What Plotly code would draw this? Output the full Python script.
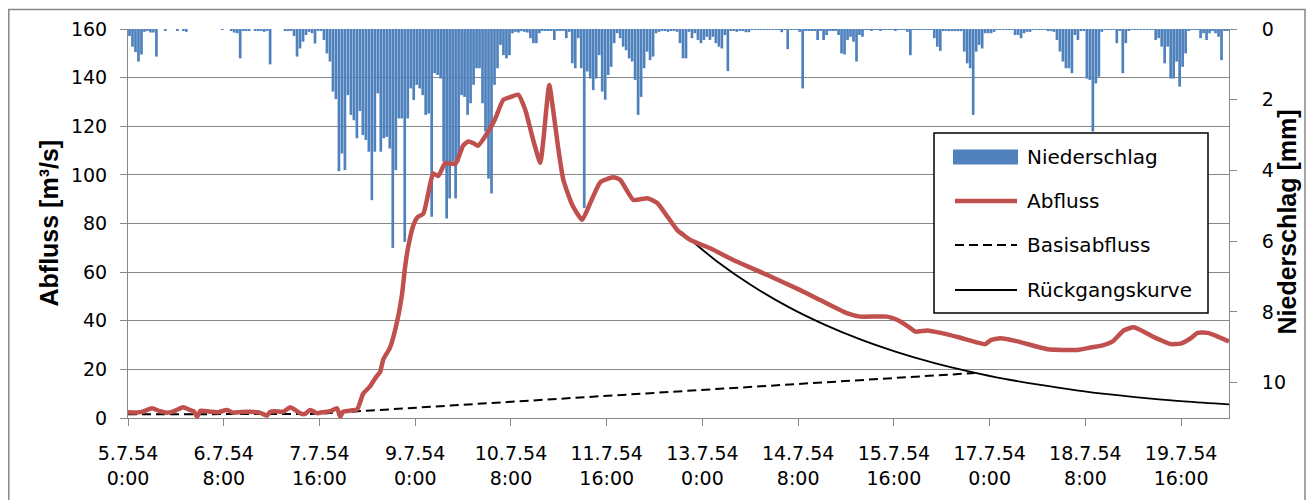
import plotly.graph_objects as go

# ---------------- data ----------------
# hourly precipitation [mm], starting 5.7.54 0:00
precip = [
    0.2, 0.5, 0.65, 0.92, 0.72, 0.08, 0.03, 0.1, 0.1, 0.78,
    0, 0, 0.03, 0, 0, 0, 0.03, 0, 0.03, 0.08,
    0, 0, 0, 0, 0, 0, 0, 0, 0, 0,
    0, 0.02, 0, 0, 0.05, 0.1, 0.12, 0.83, 0.05, 0.05,
    0.03, 0, 0.05, 0.05, 0.03, 0.08, 0.03, 1.0, 0, 0,
    0, 0, 0.03, 0.05, 0.05, 0.2, 0.78, 0.55, 0.36, 0.17,
    0.08, 0.12, 0.41, 0.03, 0.03, 0.31, 0.69, 0.92, 1.77, 1.98,
    4.02, 3.52, 3.99, 1.87, 2.43, 2.58, 3.09, 2.32, 3.0, 3.14,
    3.47, 4.84, 3.47, 1.82, 3.47, 3.09, 3.05, 3.38, 6.19, 3.99,
    2.53, 2.53, 6.02, 2.53, 1.68, 2.01, 1.58, 1.68, 1.87, 2.43,
    2.39, 5.31, 1.25, 1.3, 1.4, 3.75, 5.36, 4.79, 3.75, 4.79,
    3.75, 1.87, 1.92, 2.43, 2.1, 1.58, 1.11, 1.11, 2.1, 2.9,
    4.23, 4.65, 1.58, 1.11, 0.45, 0.74, 0.83, 0.74, 0.12, 0.08,
    0.1, 0.06, 0.08, 0.1, 0.26, 0.4, 0.4, 0.12, 0.05, 0.05,
    0.05, 0.05, 0.31, 0.03, 0.03, 0.03, 0.26, 0.08, 0.97, 1.11,
    0.26, 1.11, 5.06, 1.2, 1.4, 1.73, 1.4, 0.74, 1.77, 2.0,
    1.3, 1.07, 0.4, 0.12, 0.26, 0.5, 0.6, 0.83, 0.92, 1.44,
    2.43, 1.92, 1.11, 0.64, 0.88, 0.78, 0.12, 0.08, 0.05, 0.05,
    0.08, 0.05, 0.05, 0.08, 0.4, 0.83, 0.83, 0.08, 0.26, 0.12,
    0.31, 0.4, 0.31, 0.22, 0.31, 0.22, 0.4, 0.5, 0.55, 0.17,
    1.19, 0.03, 0.03, 0.08, 0.03, 0.03, 0.09, 0.09, 0.02, 0.02,
    0.02, 0.02, 0.02, 0.02, 0.02, 0.02, 0.02, 0.02, 0.09, 0.02,
    0.57, 0.02, 0.02, 0.02, 0.08, 1.68, 0.03, 0.03, 0.03, 0.03,
    0.31, 0.03, 0.31, 0.17, 0.03, 0.03, 0.03, 0.17, 0.69, 0.72,
    0.31, 0.22, 0.36, 0.92, 0.17, 0.22, 0.02, 0.02, 0.03, 0.02,
    0.02, 0.03, 0.02, 0.02, 0.02, 0.02, 0.03, 0.02, 0.02, 0.02,
    0.08, 0.74, 0.02, 0.02, 0.02, 0.02, 0.02, 0.02, 0.02, 0.26,
    0.5, 0.62, 0.03, 0.03, 0.06, 0.06, 0.06, 0.06, 0.06, 0.64,
    0.97, 1.11, 2.43, 0.64, 0.45, 0.55, 0.12, 0.12, 0.12, 0.08,
    0.02, 0.02, 0.02, 0.02, 0.02, 0.02, 0.17, 0.17, 0.26, 0.12,
    0.08, 0.08, 0.02, 0.02, 0.02, 0.02, 0.02, 0.06, 0.06, 0.08,
    0.31, 0.64, 0.92, 1.11, 1.11, 1.25, 0.17, 0.31, 0.03, 0.03,
    1.4, 1.44, 2.9, 1.54, 1.35, 0.08, 0.02, 0.02, 0.02, 0.02,
    0.4, 0.03, 1.25, 0.4, 0.03, 0.02, 0.02, 0.02, 0.02, 0.02,
    0.02, 0.02, 0.02, 0.31, 0.26, 0.5, 0.97, 0.5, 1.4, 1.4,
    0.92, 1.63, 1.07, 0.69, 0.03, 0.02, 0.02, 0.02, 0.26, 0.12,
    0.31, 0.12, 0.03, 0.12, 0.22, 0.88, 0.03, 0.03,
]
precip_hours = [i + 0.5 for i in range(len(precip))]

# discharge [m3/s] (hours since 5.7.54 0:00)
q_hours = [0, 3, 5, 8, 10.7, 13, 15, 18.4, 20.7, 22, 23.1, 24.2, 27.4, 30, 33.1, 35.1,
           38, 40.8, 44, 46.5, 47.5, 49.2, 52, 54.2, 56, 57.5, 59, 60.9, 63.2, 65,
           67.6, 69.9, 70.9, 71.9, 74, 76.6, 78.6, 80.9, 83, 84.3, 85.3, 87.6, 90,
           91.6, 92.6, 93.6, 95.3, 96.7, 98.7, 100.3, 102, 103.7, 106, 109.4, 112,
           113.7, 115.5, 117, 120, 122.7, 125.4, 127.8, 130.4, 132.8, 135.5, 137.8,
           138.8, 140.8, 142.1, 143.8, 145.5, 148.5, 151.8, 154.5, 157.9, 162.2,
           164.5, 168.9, 173.6, 176.9, 180.3, 183.6, 188, 194.6, 202.3, 213.7,
           224.7, 231.4, 240.5, 244.8, 253.8, 257.2, 261.5, 263.2, 267.2, 271.6,
           277.3, 284, 286.6, 288.3, 291.6, 297.3, 302.7, 307.4, 317.4, 321.7,
           326.1, 329.1, 332.8, 336.1, 339.5, 342.8, 345.2, 348.5, 351.8, 355.2,
           357.5, 360.9, 364.2, 368]
q_values = [2.4, 2.3, 2.6, 4.0, 2.8, 2.2, 2.6, 4.4, 3.3, 2.8, 0.5, 3.0, 2.6, 2.4, 3.3, 2.2,
            2.5, 2.6, 2.2, 1.0, 2.5, 2.8, 2.6, 4.4, 3.2, 2.0, 1.6, 3.3, 2.0, 2.4,
            2.8, 4.0, 0.5, 2.6, 3.0, 3.6, 10, 13, 17, 19, 24, 29, 40,
            51, 62, 70, 79, 82.5, 84, 92, 100.6, 99.5, 104.8, 104.5, 112,
            113.7, 113, 112, 117, 123, 130.8, 132, 133, 126.7, 114, 105,
            114, 137, 126.7, 111, 98, 87.6, 81.5, 88.4, 97, 99,
            98, 89.7, 90.4, 88.4, 82.8, 77.3, 73.2, 69.8, 65, 58.8,
            52.6, 48.5, 43, 41.7, 41.7, 40.3, 37, 35.5, 36, 35,
            33.3, 31, 30.4, 32, 32.8, 31.5, 29.7, 28.3, 28, 29,
            30, 31.5, 36, 37.3, 35.5, 33.3, 32, 30.4, 30.6, 32.8,
            35, 35, 33.5, 31.5]

# base flow (dashed)
base_hours = [0, 63, 283]
base_values = [1.5, 1.7, 18.5]

# recession curve
rk_hours = [185, 197, 209, 221, 233, 245, 257, 269, 281, 293, 305, 317, 329, 341, 353, 368]
rk_values = [76.5, 64.3, 54.1, 45.5, 38.3, 32.2, 27.1, 22.8, 19.2, 16.1, 13.6, 11.4, 9.6, 8.1, 6.8, 5.6]

tick_hours = [0, 32, 64, 96, 128, 160, 192, 224, 256, 288, 320, 352]
tick_labels = ["5.7.54<br>0:00", "6.7.54<br>8:00", "7.7.54<br>16:00", "9.7.54<br>0:00",
               "10.7.54<br>8:00", "11.7.54<br>16:00", "13.7.54<br>0:00", "14.7.54<br>8:00",
               "15.7.54<br>16:00", "17.7.54<br>0:00", "18.7.54<br>8:00", "19.7.54<br>16:00"]

legend_names = ["Niederschlag", "Abfluss", "Basisabfluss", "Rückgangskurve"]

# ---------------- styling ----------------
BLUE = "#4F81BD"
RED = "#C0504D"
GRID = "#878787"
OFF = 8                      # page body margin
W, H = 1314 - OFF, 500 - OFF
ML, MT = 128 - OFF, 29 - OFF
MR = W - (1229 - OFF)
MB = H - (418 - OFF)
PW, PH = W - ML - MR, H - MT - MB


def px(x):  # screen x -> paper
    return (x - 128) / PW


def py(y):  # screen y -> paper
    return (418 - y) / PH


TICKFONT = dict(family="DejaVu Sans", size=19, color="black")

fig = go.Figure()
fig.add_trace(go.Bar(x=precip_hours, y=precip, name=legend_names[0], marker_color=BLUE,
                     marker_line_width=0, yaxis="y", showlegend=False))
fig.add_trace(go.Scatter(x=base_hours, y=base_values, name=legend_names[2], mode="lines",
                         line=dict(color="black", width=2, dash="9px,5px"), yaxis="y2",
                         showlegend=False))
fig.add_trace(go.Scatter(x=rk_hours, y=rk_values, name=legend_names[3], mode="lines",
                         line=dict(color="black", width=1.8, shape="spline"), yaxis="y2",
                         showlegend=False))
fig.add_trace(go.Scatter(x=q_hours, y=q_values, name=legend_names[1], mode="lines",
                         line=dict(color=RED, width=4.5, shape="spline", smoothing=0.5),
                         yaxis="y2", showlegend=False))

fig.update_layout(
    width=W, height=H,
    margin=dict(l=ML, r=MR, t=MT, b=MB, autoexpand=False),
    paper_bgcolor="white", plot_bgcolor="white",
    bargap=0.1,
    showlegend=False,
    xaxis=dict(range=[0, 368], tickvals=tick_hours, ticktext=tick_labels,
               showgrid=False, zeroline=False, showline=True, linecolor=GRID, linewidth=1,
               ticks="outside", ticklen=7, tickcolor=GRID, tickfont=TICKFONT,
               ticklabelstandoff=11),
    yaxis=dict(side="right", range=[11, 0], tickvals=[0, 2, 4, 6, 8, 10],
               showgrid=False, zeroline=False, showline=True, linecolor=GRID, linewidth=1,
               ticks="outside", ticklen=7, tickcolor=GRID, tickfont=TICKFONT,
               ticklabelstandoff=21),
    yaxis2=dict(side="left", overlaying="y", range=[0, 160], tickvals=list(range(0, 161, 20)),
                showgrid=True, gridcolor=GRID, gridwidth=1, zeroline=False,
                showline=True, linecolor=GRID, linewidth=1,
                ticks="outside", ticklen=7, tickcolor=GRID, tickfont=TICKFONT,
                ticklabelstandoff=9),
)

shapes = []
# outer chart border
shapes.append(dict(type="rect", xref="paper", yref="paper", x0=px(8.8), x1=px(1305), y0=py(530), y1=py(9.5),
                   line=dict(color=GRID, width=1.5), fillcolor="rgba(0,0,0,0)", layer="below"))
# legend box
shapes.append(dict(type="rect", xref="paper", yref="paper", x0=px(934), x1=px(1208), y0=py(313), y1=py(133),
                   line=dict(color="black", width=1.5), fillcolor="white", layer="above"))
row_y = [157, 201, 245, 290]
shapes.append(dict(type="rect", xref="paper", yref="paper", x0=px(953), x1=px(1018),
                   y0=py(row_y[0] + 7.5), y1=py(row_y[0] - 7.5), line=dict(width=0),
                   fillcolor=BLUE, layer="above"))
shapes.append(dict(type="line", xref="paper", yref="paper", x0=px(955), x1=px(1017),
                   y0=py(row_y[1]), y1=py(row_y[1]), line=dict(color=RED, width=4.5), layer="above"))
shapes.append(dict(type="line", xref="paper", yref="paper", x0=px(955), x1=px(1017),
                   y0=py(row_y[2]), y1=py(row_y[2]), line=dict(color="black", width=2, dash="9px,5px"),
                   layer="above"))
shapes.append(dict(type="line", xref="paper", yref="paper", x0=px(955), x1=px(1017),
                   y0=py(row_y[3]), y1=py(row_y[3]), line=dict(color="black", width=1.8), layer="above"))
fig.update_layout(shapes=shapes)

annotations = []
for name, ry in zip(legend_names, row_y):
    annotations.append(dict(xref="paper", yref="paper", x=px(1025), y=py(ry), text=name,
                            showarrow=False, xanchor="left", yanchor="middle",
                            font=dict(family="DejaVu Sans", size=20, color="black")))
annotations.append(dict(xref="paper", yref="paper", x=px(48), y=py(223.5), text="Abfluss [m³/s]",
                        textangle=-90, showarrow=False, xanchor="center", yanchor="middle",
                        font=dict(family="Liberation Sans", size=25, color="black", weight="bold")))
annotations.append(dict(xref="paper", yref="paper", x=px(1286), y=py(222.5), text="Niederschlag [mm]",
                        textangle=-90, showarrow=False, xanchor="center", yanchor="middle",
                        font=dict(family="Liberation Sans", size=25, color="black", weight="bold")))
fig.update_layout(annotations=annotations)

fig.write_html("out.html")
